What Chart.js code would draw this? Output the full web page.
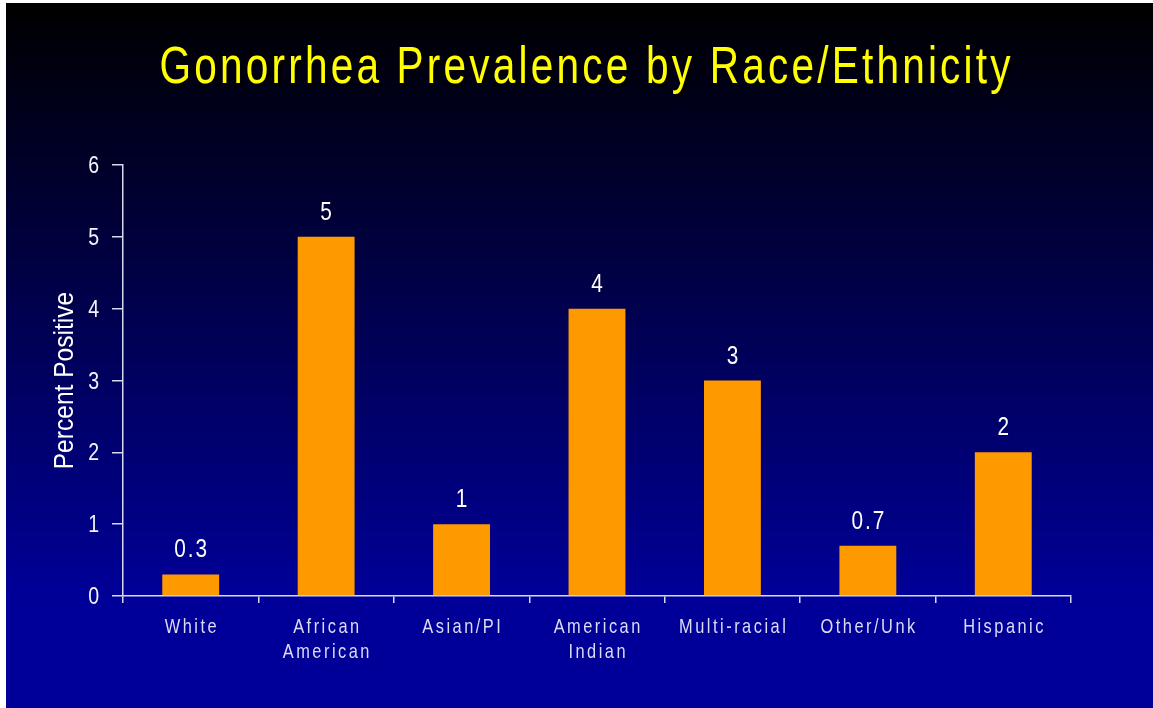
<!DOCTYPE html>
<html>
<head>
<meta charset="utf-8">
<script src="https://cdn.jsdelivr.net/npm/chart.js@4.4.1/dist/chart.umd.min.js"></script>
<style>
  html, body { margin: 0; padding: 0; background: #fff; }
  canvas { display: block; }
</style>
</head>
<body>
<canvas id="raceChart" width="1153" height="708"></canvas>
<script>
const titleText = 'Gonorrhea Prevalence by Race/Ethnicity';
const yTitle = 'Percent Positive';
const categories = [['White'], ['African', 'American'], ['Asian/PI'], ['American', 'Indian'], ['Multi-racial'], ['Other/Unk'], ['Hispanic']];
const values = [0.3, 5, 1, 4, 3, 0.7, 2];
const valueLabels = ['0.3', '5', '1', '4', '3', '0.7', '2'];
const yMin = 0;
const yMax = 6;
const yStep = 1;

const FONT = '"Liberation Sans", Arial, sans-serif';

// narrow, letter-spaced text (the slide font is a condensed face)
function drawNarrow(ctx, text, x, y, size, scaleX, spacing, color, align) {
    ctx.save();
    ctx.font = size + 'px ' + FONT;
    ctx.fillStyle = color;
    ctx.textAlign = align || 'center';
    ctx.textBaseline = 'alphabetic';
    ctx.translate(x + (align ? 0 : spacing / 2), y);
    ctx.scale(scaleX, 1);
    ctx.letterSpacing = (spacing / scaleX) + 'px';
    ctx.fillText(text, 0, 0);
    ctx.restore();
}

const slidePlugin = {
    id: 'slide',
    beforeDraw(chart) {
        const ctx = chart.ctx;
        ctx.save();
        ctx.fillStyle = '#ffffff';
        ctx.fillRect(0, 0, chart.width, chart.height);
        const grad = ctx.createLinearGradient(0, 3, 0, 600);
        grad.addColorStop(0, '#000000');
        grad.addColorStop(1, '#000099');
        ctx.fillStyle = grad;
        ctx.fillRect(6, 3, chart.width - 6, chart.height - 3);
        ctx.restore();
    },
    afterDraw(chart) {
        const ctx = chart.ctx;
        const area = chart.chartArea;

        // title with drop shadow
        ctx.save();
        ctx.shadowColor = 'rgba(0,0,0,0.9)';
        ctx.shadowOffsetX = 3;
        ctx.shadowOffsetY = 3;
        drawNarrow(ctx, titleText, 585, 83, 52, 0.78, 3.2, '#ffff00');
        ctx.restore();

        // y axis title
        ctx.save();
        ctx.translate(63, (area.top + area.bottom) / 2);
        ctx.rotate(-Math.PI / 2);
        drawNarrow(ctx, yTitle, 0, 10, 27, 0.91, 0, '#ffffff');
        ctx.restore();

        // y tick labels
        const yScale = chart.scales.y;
        yScale.ticks.forEach((t, i) => {
            const py = yScale.getPixelForTick(i);
            drawNarrow(ctx, String(t.value), 99, py + 8, 23, 0.85, 0, '#f4f4fa', 'right');
        });

        // category labels
        const xScale = chart.scales.x;
        categories.forEach((lines, i) => {
            const cx = xScale.getPixelForTick(i);
            lines.forEach((line, j) => {
                drawNarrow(ctx, line, cx, 633 + j * 25, 21, 0.78, 2.5, '#dcdcf5');
            });
        });

        // value labels
        const meta = chart.getDatasetMeta(0);
        meta.data.forEach((bar, i) => {
            drawNarrow(ctx, valueLabels[i], bar.x, bar.y - 17, 26, 0.8, 2, '#ffffff');
        });
    }
};

const ctx = document.getElementById('raceChart').getContext('2d');
new Chart(ctx, {
    type: 'bar',
    data: {
        labels: categories,
        datasets: [{
            data: values,
            backgroundColor: '#ff9900',
            borderWidth: 0,
            categoryPercentage: 1,
            barPercentage: 0.42
        }]
    },
    options: {
        responsive: false,
        animation: false,
        layout: {
            padding: { top: 165, right: 82, left: 0, bottom: 0 }
        },
        plugins: {
            legend: { display: false },
            tooltip: { enabled: false },
            title: { display: false }
        },
        scales: {
            x: {
                grid: {
                    display: true,
                    drawOnChartArea: false,
                    drawTicks: true,
                    tickLength: 7,
                    color: '#d8d8ee',
                    lineWidth: 1.5
                },
                border: { color: '#d8d8ee', width: 1.5 },
                ticks: { display: false },
                afterFit(scale) { scale.height = 112; }
            },
            y: {
                min: yMin,
                max: yMax,
                grid: {
                    display: true,
                    drawOnChartArea: false,
                    drawTicks: true,
                    tickLength: 11,
                    color: '#d8d8ee',
                    lineWidth: 1.5
                },
                border: { color: '#d8d8ee', width: 1.5 },
                ticks: { display: false, stepSize: yStep },
                afterFit(scale) { scale.width = 123; }
            }
        }
    },
    plugins: [slidePlugin]
});
</script>
</body>
</html>
